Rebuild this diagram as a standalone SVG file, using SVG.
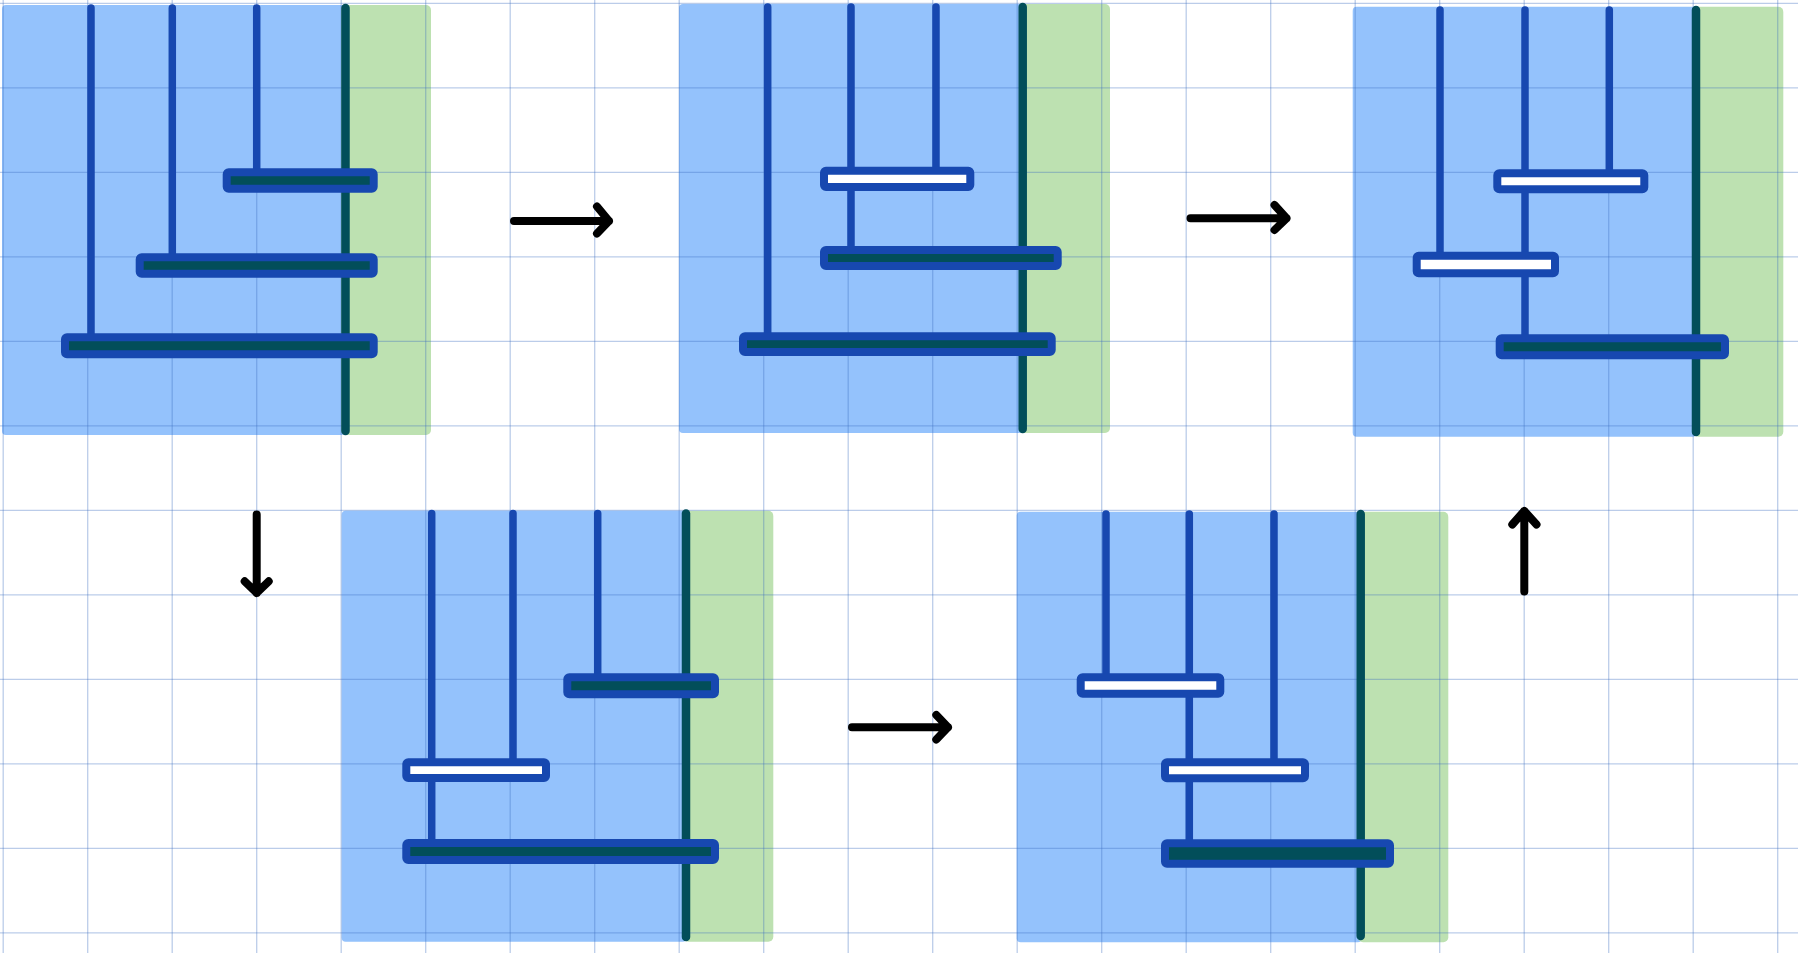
<svg xmlns="http://www.w3.org/2000/svg" width="1798" height="953" viewBox="0 0 1798 953">
<defs>
<style>
.bg{fill:#ffffff}
.blue{fill:#94c2fc}
.green{fill:#bde1b1}
.grid line{stroke:#3d6cc0;stroke-opacity:0.35;stroke-width:1.3}
.peg{stroke:#1748b0;stroke-width:7.5;stroke-linecap:round;fill:none}
.post{stroke:#024e5a;stroke-width:8.5;stroke-linecap:round;fill:none}
.disk{stroke:#1748b0;stroke-width:8;stroke-linejoin:round}
.dark{fill:#024e5a}
.light{fill:#ffffff}
.arrow{stroke:#000000;stroke-width:8;stroke-linecap:round;stroke-linejoin:round;fill:none}
</style>
</defs>
<rect class="bg" x="0" y="0" width="1798" height="953"/>
<g id="panels">
<rect class="blue" x="2" y="5" width="343" height="430" rx="4"/>
<rect class="green" x="341" y="5" width="90" height="430" rx="5"/>
<rect class="blue" x="679" y="4" width="344" height="429" rx="4"/>
<rect class="green" x="1020" y="4" width="90" height="429" rx="5"/>
<rect class="blue" x="1352.7" y="6.7" width="344" height="430" rx="4"/>
<rect class="green" x="1693" y="6.7" width="90.3" height="430" rx="5"/>
<rect class="blue" x="341.7" y="510.7" width="345" height="431" rx="4"/>
<rect class="green" x="683" y="510.7" width="90.3" height="431" rx="5"/>
<rect class="blue" x="1016.7" y="511.7" width="345" height="430.6" rx="4"/>
<rect class="green" x="1358" y="511.7" width="90.3" height="430.6" rx="5"/>
</g>
<g class="grid" id="grid">
<line x1="3.2" y1="0" x2="3.2" y2="953"/>
<line x1="87.7" y1="0" x2="87.7" y2="953"/>
<line x1="172.2" y1="0" x2="172.2" y2="953"/>
<line x1="256.7" y1="0" x2="256.7" y2="953"/>
<line x1="341.2" y1="0" x2="341.2" y2="953"/>
<line x1="425.7" y1="0" x2="425.7" y2="953"/>
<line x1="510.2" y1="0" x2="510.2" y2="953"/>
<line x1="594.7" y1="0" x2="594.7" y2="953"/>
<line x1="679.2" y1="0" x2="679.2" y2="953"/>
<line x1="763.7" y1="0" x2="763.7" y2="953"/>
<line x1="848.2" y1="0" x2="848.2" y2="953"/>
<line x1="932.7" y1="0" x2="932.7" y2="953"/>
<line x1="1017.2" y1="0" x2="1017.2" y2="953"/>
<line x1="1101.7" y1="0" x2="1101.7" y2="953"/>
<line x1="1186.2" y1="0" x2="1186.2" y2="953"/>
<line x1="1270.7" y1="0" x2="1270.7" y2="953"/>
<line x1="1355.2" y1="0" x2="1355.2" y2="953"/>
<line x1="1439.7" y1="0" x2="1439.7" y2="953"/>
<line x1="1524.2" y1="0" x2="1524.2" y2="953"/>
<line x1="1608.7" y1="0" x2="1608.7" y2="953"/>
<line x1="1693.2" y1="0" x2="1693.2" y2="953"/>
<line x1="1777.7" y1="0" x2="1777.7" y2="953"/>
<line x1="0" y1="3.3" x2="1798" y2="3.3"/>
<line x1="0" y1="87.8" x2="1798" y2="87.8"/>
<line x1="0" y1="172.3" x2="1798" y2="172.3"/>
<line x1="0" y1="256.8" x2="1798" y2="256.8"/>
<line x1="0" y1="341.3" x2="1798" y2="341.3"/>
<line x1="0" y1="425.8" x2="1798" y2="425.8"/>
<line x1="0" y1="510.3" x2="1798" y2="510.3"/>
<line x1="0" y1="594.8" x2="1798" y2="594.8"/>
<line x1="0" y1="679.3" x2="1798" y2="679.3"/>
<line x1="0" y1="763.8" x2="1798" y2="763.8"/>
<line x1="0" y1="848.3" x2="1798" y2="848.3"/>
<line x1="0" y1="932.8" x2="1798" y2="932.8"/>
</g>
<g id="state1">
<line class="peg" x1="91" y1="8" x2="91" y2="336"/>
<line class="peg" x1="172.3" y1="8" x2="172.3" y2="256"/>
<line class="peg" x1="256.7" y1="8" x2="256.7" y2="171"/>
<line class="post" x1="345.5" y1="8" x2="345.5" y2="431"/>
<rect class="disk dark" x="226.7" y="172.3" width="147" height="16.4" rx="2"/>
<rect class="disk dark" x="139.7" y="257.3" width="234" height="16.4" rx="2"/>
<rect class="disk dark" x="65" y="337.3" width="308.7" height="17" rx="2"/>
</g>
<g id="state2">
<line class="peg" x1="767.7" y1="7" x2="767.7" y2="335"/>
<line class="peg" x1="851" y1="7" x2="851" y2="249"/>
<line class="peg" x1="936" y1="7" x2="936" y2="170"/>
<line class="post" x1="1022.7" y1="7" x2="1022.7" y2="429"/>
<rect class="disk light" x="824" y="170.7" width="146.3" height="16.3" rx="2"/>
<rect class="disk dark" x="824" y="250" width="233.7" height="16" rx="2"/>
<rect class="disk dark" x="743" y="336.3" width="308.7" height="15.7" rx="2"/>
</g>
<g id="state3">
<line class="peg" x1="1440" y1="10" x2="1440" y2="255"/>
<line class="peg" x1="1525" y1="10" x2="1525" y2="338"/>
<line class="peg" x1="1609.3" y1="10" x2="1609.3" y2="172"/>
<line class="post" x1="1696" y1="10" x2="1696" y2="432"/>
<rect class="disk light" x="1497.3" y="173.3" width="147" height="16" rx="2"/>
<rect class="disk light" x="1416.7" y="255.7" width="138.3" height="17.5" rx="2"/>
<rect class="disk dark" x="1499.7" y="338.3" width="225.3" height="17" rx="2"/>
</g>
<g id="state4">
<line class="peg" x1="431.7" y1="513.5" x2="431.7" y2="842"/>
<line class="peg" x1="513" y1="513.5" x2="513" y2="761"/>
<line class="peg" x1="597.7" y1="513.5" x2="597.7" y2="677"/>
<line class="post" x1="686" y1="513.5" x2="686" y2="937"/>
<rect class="disk dark" x="567.3" y="677.3" width="147.7" height="17" rx="2"/>
<rect class="disk light" x="406.3" y="762.3" width="139.7" height="15.7" rx="2"/>
<rect class="disk dark" x="406.3" y="843" width="308.7" height="17" rx="2"/>
</g>
<g id="state5">
<line class="peg" x1="1106" y1="514" x2="1106" y2="677"/>
<line class="peg" x1="1189.3" y1="514" x2="1189.3" y2="843"/>
<line class="peg" x1="1274" y1="514" x2="1274" y2="762"/>
<line class="post" x1="1360.7" y1="514" x2="1360.7" y2="936"/>
<rect class="disk light" x="1080.7" y="677.3" width="139.6" height="16.4" rx="2"/>
<rect class="disk light" x="1165" y="762.3" width="140" height="16" rx="2"/>
<rect class="disk dark" x="1165" y="843.3" width="225" height="20.4" rx="2"/>
</g>
<g id="connectors">
<path class="arrow" d="M514,221 H609 M597,206.5 L609,221 L597,233.5"/>
<path class="arrow" d="M1190.5,218.3 H1286.5 M1274.5,205 L1286.5,218.3 L1274.5,230"/>
<path class="arrow" d="M256.7,514.5 V593 M244.7,581.3 L256.7,593 L268.7,581.3"/>
<path class="arrow" d="M852,727.3 H948 M936.3,715 L948,727.3 L936.3,739.5"/>
<path class="arrow" d="M1524.3,591.5 V511 M1512.3,524.5 L1524.3,511 L1536.5,524.5"/>
</g>
</svg>
